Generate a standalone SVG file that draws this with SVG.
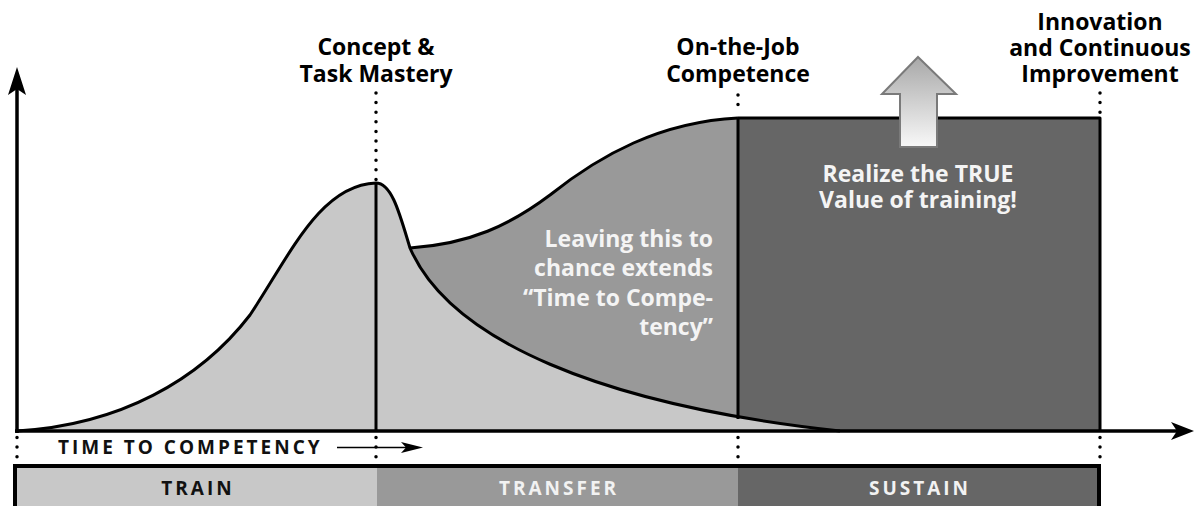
<svg xmlns="http://www.w3.org/2000/svg" width="1194" height="506" viewBox="0 0 1194 506">
  <style>
    .lbl { font-family: "Open Sans", "Liberation Sans", sans-serif; font-weight: 700; font-size: 23px; fill: #000; }
    .wlbl { font-family: "Open Sans", "Liberation Sans", sans-serif; font-weight: 700; font-size: 23px; fill: #f4f4f4; }
    .cap { font-family: "Open Sans", "Liberation Sans", sans-serif; font-weight: 700; font-size: 19px; letter-spacing: 3px; }
    .edge { fill: none; stroke: #000; stroke-width: 3; stroke-linejoin: round; }
    .dots { fill: none; stroke: #000; stroke-width: 3.5; stroke-linecap: round; stroke-dasharray: 0 9.6; }
    .light { fill: #c8c8c8; }
    .mid { fill: #999999; }
    .dark { fill: #666666; }
  </style>
  <defs>
    <linearGradient id="upGrad" x1="0" y1="57" x2="0" y2="147" gradientUnits="userSpaceOnUse">
      <stop offset="0" stop-color="#a8a8a8"/>
      <stop offset="1" stop-color="#f8f8f8"/>
    </linearGradient>
  </defs>
  <rect width="1194" height="506" fill="#fff"/>

  <!-- sustain phase block -->
  <g id="sustain-region">
    <rect class="dark" x="738" y="118" width="362" height="313"/>
    <path class="edge" d="M738,118 L1100,118 L1100,431"/>
  </g>

  <!-- transfer phase: rising S-curve toward on-the-job competence -->
  <g id="transfer-region">
    <path class="mid" d="M410,248 C470,244 510,225 550,195 C600,155 660,122 738,118 L738,431 L410,431 Z"/>
  </g>

  <!-- training bell and decay curve -->
  <g id="train-region">
    <path class="light" d="M17,431 C120,425 200,380 250,315 C290,255 320,185 376,183 C392,183 400,215 410,248 C450,340 600,405 840,431 Z"/>
    <path class="edge" d="M17,431 C120,425 200,380 250,315 C290,255 320,185 376,183 C392,183 400,215 410,248 C450,340 600,405 840,431"/>
    <path class="edge" d="M410,248 C470,244 510,225 550,195 C600,155 660,122 738,118"/>
    <line class="edge" x1="376" y1="183" x2="376" y2="431"/>
    <line class="edge" x1="738" y1="118" x2="738" y2="419"/>
  </g>

  <!-- axes, milestone markers and arrows -->
  <g id="connectors">
    <line x1="17" y1="433" x2="17" y2="88" stroke="#000" stroke-width="3.5"/>
    <path d="M17,67 L26,95 L17,89 L8,95 Z" fill="#000"/>
    <line x1="15" y1="431" x2="1178" y2="431" stroke="#000" stroke-width="3.5"/>
    <path d="M1194,431 L1171,422 L1177,431 L1171,440 Z" fill="#000"/>

    <line class="dots" x1="376" y1="93" x2="376" y2="183"/>
    <line class="dots" x1="738" y1="95" x2="738" y2="114"/>
    <line class="dots" x1="1100" y1="93" x2="1100" y2="114"/>

    <line class="dots" x1="17" y1="437.5" x2="17" y2="457"/>
    <line class="dots" x1="376" y1="437.5" x2="376" y2="457"/>
    <line class="dots" x1="738" y1="437.5" x2="738" y2="457"/>
    <line class="dots" x1="1100" y1="437.5" x2="1100" y2="457"/>

    <line x1="337" y1="447.5" x2="408" y2="447.5" stroke="#000" stroke-width="1.6"/>
    <path d="M423,447.5 L401,442 L406,447.5 L401,453 Z" fill="#000"/>

    <path id="value-arrow" d="M918,57 L956,94 L937,94 L937,147 L900,147 L900,94 L882,94 Z" fill="url(#upGrad)" stroke="#7a7a7a" stroke-width="2" stroke-linejoin="miter"/>
  </g>

  <!-- milestone captions -->
  <g id="milestone-mastery">
    <text class="lbl" text-anchor="middle" x="376" y="55">Concept &amp;</text>
    <text class="lbl" text-anchor="middle" x="376" y="82">Task Mastery</text>
  </g>
  <g id="milestone-competence">
    <text class="lbl" text-anchor="middle" x="738" y="55">On-the-Job</text>
    <text class="lbl" text-anchor="middle" x="738" y="82">Competence</text>
  </g>
  <g id="milestone-innovation">
    <text class="lbl" text-anchor="middle" x="1100" y="30">Innovation</text>
    <text class="lbl" text-anchor="middle" x="1100" y="56">and Continuous</text>
    <text class="lbl" text-anchor="middle" x="1100" y="82">Improvement</text>
  </g>

  <g id="note-chance">
    <text class="wlbl" text-anchor="end" x="713" y="247">Leaving this to</text>
    <text class="wlbl" text-anchor="end" x="713" y="276">chance extends</text>
    <text class="wlbl" text-anchor="end" x="713" y="306">“Time to Compe-</text>
    <text class="wlbl" text-anchor="end" x="713" y="335">tency”</text>
  </g>
  <g id="note-value">
    <text class="wlbl" text-anchor="middle" x="918" y="182">Realize the TRUE</text>
    <text class="wlbl" text-anchor="middle" x="918" y="208">Value of training!</text>
  </g>

  <g id="axis-caption">
    <text class="cap" x="58" y="454" fill="#111">TIME TO COMPETENCY</text>
  </g>

  <!-- phase band -->
  <g id="phase-band">
    <rect class="light" x="15" y="466" width="362" height="45"/>
    <rect class="mid" x="377" y="466" width="361" height="45"/>
    <rect class="dark" x="738" y="466" width="361" height="45"/>
    <rect x="15" y="466" width="1084" height="50" fill="none" stroke="#000" stroke-width="4"/>
    <text class="cap" text-anchor="middle" x="198" y="495" fill="#111">TRAIN</text>
    <text class="cap" text-anchor="middle" x="559" y="495" fill="#f2f2f2">TRANSFER</text>
    <text class="cap" text-anchor="middle" x="920" y="495" fill="#f2f2f2">SUSTAIN</text>
  </g>
</svg>
